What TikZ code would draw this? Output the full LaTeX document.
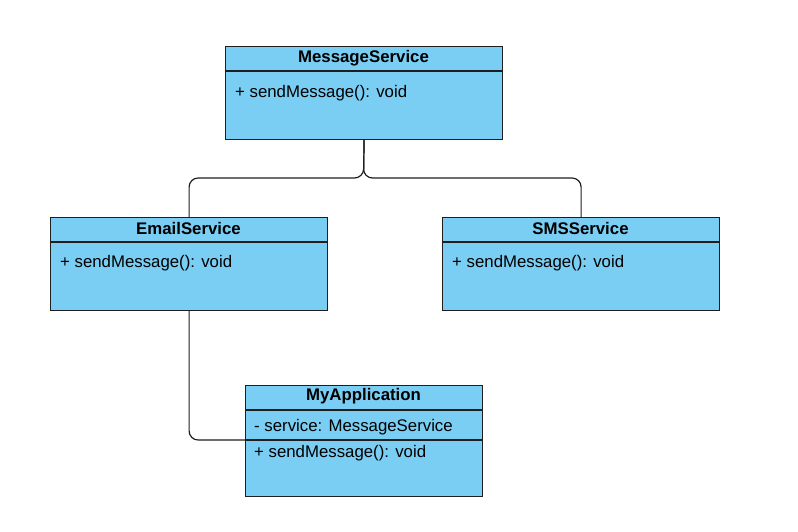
\documentclass[tikz,border=0pt]{standalone}
\usepackage{fontspec}
\setmainfont{Liberation Sans}
\definecolor{boxfill}{HTML}{7ACEF4}
\definecolor{edge}{HTML}{1E1E1E}
\begin{document}
\begin{tikzpicture}[x=1pt,y=-1pt,
  classbox/.style={draw=edge, fill=boxfill, line width=1.2pt, rectangle, inner sep=0pt, anchor=north west},
  divider/.style={draw=edge, line width=1.2pt},
  head/.style={font=\fontsize{16.8}{19}\selectfont\bfseries, inner sep=0pt, anchor=center},
  member/.style={font=\fontsize{16.8}{19}\selectfont, inner sep=0pt, anchor=west},
  conn/.style={draw=edge, line width=1.2pt, rounded corners=9pt}]
\useasboundingbox (0,0) rectangle (798,532);
% MessageService
\node[classbox, minimum width=277pt, minimum height=93pt] (ms) at (225,46) {};
\draw[divider] (225,71) -- (502,71);
\node[head] (msh) at (363.5,58) {MessageService};
\node[member] (msm) at (235,93.5) {+ sendMessage(): void};
% EmailService
\node[classbox, minimum width=277pt, minimum height=93pt] (es) at (50,217) {};
\draw[divider] (50,242) -- (327,242);
\node[head] (esh) at (188.5,228.5) {EmailService};
\node[member] (esm) at (60,263.5) {+ sendMessage(): void};
% SMSService
\node[classbox, minimum width=277pt, minimum height=93pt] (ss) at (442,217) {};
\draw[divider] (442,242) -- (719,242);
\node[head] (ssh) at (580.5,228.5) {SMSService};
\node[member] (ssm) at (452,263.5) {+ sendMessage(): void};
% MyApplication
\node[classbox, minimum width=237pt, minimum height=111pt] (ma) at (245,385) {};
\draw[divider] (245,410) -- (482,410);
\draw[divider] (245,440) -- (482,440);
\node[head] (mah) at (363.5,396.5) {MyApplication};
\node[member] (maa) at (254,427.5) {- service: MessageService};
\node[member] (mam) at (254,453.5) {+ sendMessage(): void};
% connectors
\coordinate (j) at (363.5,178);
\coordinate (mal) at (245,440);
\draw[conn] (ms.south) -- (j) -| (es.north);
\draw[conn] (ms.south) -- (j) -| (ss.north);
\draw[conn] (es.south) |- (mal);
\end{tikzpicture}
\end{document}
